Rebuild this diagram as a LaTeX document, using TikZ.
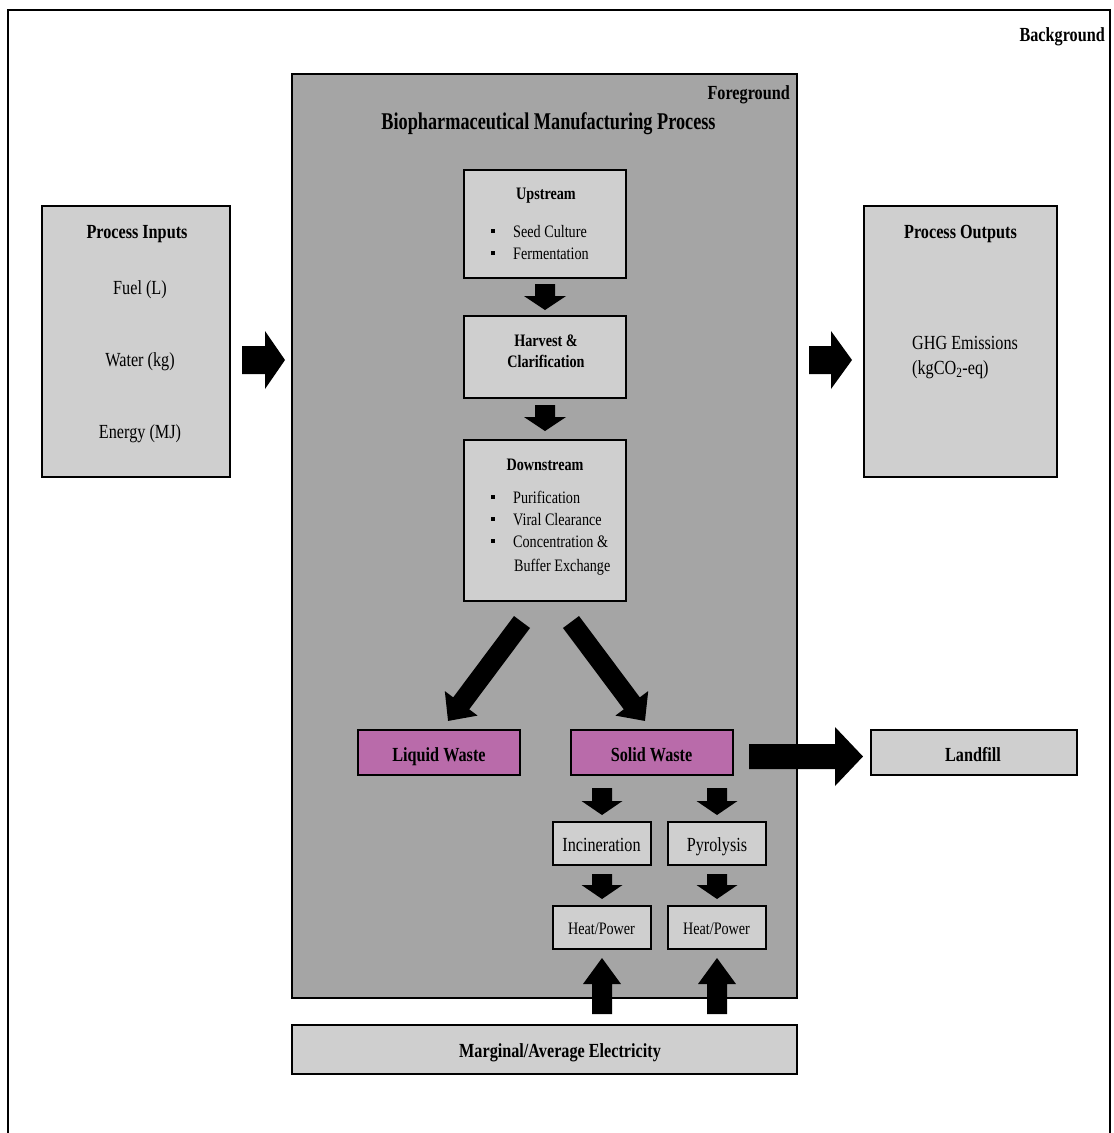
\documentclass[tikz,border=0pt]{standalone}
\usepackage{fontspec}
\setmainfont{Liberation Serif}[FakeStretch=0.81]
\newfontfamily\titlefont{Liberation Serif}[FakeStretch=0.76]
\usetikzlibrary{calc}
\definecolor{fgg}{HTML}{A5A5A5}
\definecolor{lg}{HTML}{CFCFCF}
\definecolor{purp}{HTML}{B96BAA}
\newcommand\fsmain{\fontsize{20pt}{23pt}\selectfont}
\newcommand\fssmall{\fontsize{17.5pt}{21pt}\selectfont}
\newcommand\fstitle{\fontsize{24pt}{28pt}\selectfont}
% block arrow: start, end, shaft half width, head half width, head length
\newcommand\blockarrow[5]{%
  \path let \p1=(#1), \p2=(#2) in
    \pgfextra{%
      \pgfmathsetmacro\baang{atan2(\y2-\y1,\x2-\x1)}%
      \pgfmathsetmacro\balen{veclen(\x2-\x1,\y2-\y1)}%
      \global\let\baangG\baang \global\let\balenG\balen};
  \fill[black, shift={(#1)}, rotate=\baangG]
    (0pt,-#3) -- ({\balenG pt-#5},-#3) -- ({\balenG pt-#5},-#4) -- (\balenG pt,0pt)
    -- ({\balenG pt-#5},#4) -- ({\balenG pt-#5},#3) -- (0pt,#3) -- cycle;
}
\tikzset{
  box/.style={draw=black, line width=2pt, inner sep=0pt},
  lbox/.style={box, fill=lg},
  pbox/.style={box, fill=purp},
  tm/.style={inner sep=0pt, font=\fsmain},
  tb/.style={inner sep=0pt, font=\fsmain\bfseries},
  ts/.style={inner sep=0pt, font=\fssmall},
  tsb/.style={inner sep=0pt, font=\fssmall\bfseries},
}
\begin{document}
\begin{tikzpicture}[x=1pt,y=-1pt]
\useasboundingbox (0,0) rectangle (1114,1133);
% outer frame
\draw[line width=2.5pt] (8,1134) -- (8,10) -- (1110,10) -- (1110,1134);
\node[tb, anchor=base east] (bgl) at (1105,41) {Background};
% foreground
\node[box, fill=fgg, minimum width=505pt, minimum height=924pt] (fg) at (544.5,536) {};
\node[tb, anchor=base east] (fgl) at (790,99) {Foreground};
\node[inner sep=0pt, font=\titlefont\fstitle\bfseries, anchor=base] (title) at (548.5,129) {Biopharmaceutical Manufacturing Process};
% process inputs / outputs
\node[lbox, minimum width=188pt, minimum height=271pt] (pin) at (136,341.5) {};
\node[tb, anchor=base] (pint) at (137,238.5) {Process Inputs};
\node[tm, anchor=base] (fuel) at (140,294.5) {Fuel (L)};
\node[tm, anchor=base] (water) at (140,366) {Water (kg)};
\node[tm, anchor=base] (energy) at (140,438.5) {Energy (MJ)};
\node[lbox, minimum width=193pt, minimum height=271pt] (pout) at (960.5,341.5) {};
\node[tb, anchor=base] (poutt) at (960.5,238.5) {Process Outputs};
\node[tm, anchor=base west] (ghg) at (912,349) {GHG Emissions};
\node[tm, anchor=base west] (kg) at (912,374) {(kgCO\textsubscript{2}-eq)};
% upstream
\node[lbox, minimum width=162pt, minimum height=108pt] (up) at (545,224) {};
\node[tsb, anchor=base] (upt) at (546,199.5) {Upstream};
\node[ts, anchor=base west] (seed) at (513,237.5) {Seed Culture};
\node[ts, anchor=base west] (ferm) at (513,259.5) {Fermentation};
\fill (491,229) rectangle (495,233);
\fill (491,251) rectangle (495,255);
% harvest
\node[lbox, minimum width=162pt, minimum height=82pt] (harv) at (545,357) {};
\node[tsb, anchor=base] (harv1) at (546,346.5) {Harvest \&};
\node[tsb, anchor=base] (harv2) at (546,367.5) {Clarification};
% downstream
\node[lbox, minimum width=162pt, minimum height=161pt] (down) at (545,520.5) {};
\node[tsb, anchor=base] (downt) at (545,470.5) {Downstream};
\node[ts, anchor=base west] (pur) at (513,503.5) {Purification};
\node[ts, anchor=base west] (vir) at (513,525) {Viral Clearance};
\node[ts, anchor=base west] (conc) at (513,547) {Concentration \&};
\node[ts, anchor=base west] (buf) at (514,571) {Buffer Exchange};
\fill (491,495) rectangle (495,499);
\fill (491,517) rectangle (495,521);
\fill (491,539) rectangle (495,543);
% wastes
\node[pbox, minimum width=162pt, minimum height=45pt] (liq) at (439,752.5) {};
\node[tb, anchor=base] (liqt) at (439,761) {Liquid Waste};
\node[pbox, minimum width=162pt, minimum height=45pt] (sol) at (652,752.5) {};
\node[tb, anchor=base] (solt) at (651.5,761) {Solid Waste};
\node[lbox, minimum width=206pt, minimum height=45pt] (land) at (974,752.5) {};
\node[tb, anchor=base] (landt) at (973,761) {Landfill};
% treatment
\node[lbox, minimum width=98pt, minimum height=43pt] (inc) at (602,843.5) {};
\node[tm, anchor=base] (inct) at (601.5,851.5) {Incineration};
\node[lbox, minimum width=98pt, minimum height=43pt] (pyr) at (717,843.5) {};
\node[tm, anchor=base] (pyrt) at (717,851) {Pyrolysis};
\node[lbox, minimum width=98pt, minimum height=43pt] (hp1) at (602,927.5) {};
\node[ts, anchor=base] (hp1t) at (601.5,934.5) {Heat/Power};
\node[lbox, minimum width=98pt, minimum height=43pt] (hp2) at (717,927.5) {};
\node[ts, anchor=base] (hp2t) at (716.5,934.5) {Heat/Power};
% electricity
\node[lbox, minimum width=505pt, minimum height=49pt] (elec) at (544.5,1049.5) {};
\node[tb, anchor=base] (elect) at (560,1057.5) {Marginal/Average Electricity};
% arrows
\blockarrow{$(up.south)+(0,5)$}{$(harv.north)+(0,-5)$}{10pt}{21pt}{14pt}
\blockarrow{$(harv.south)+(0,6)$}{$(down.north)+(0,-8)$}{10pt}{21pt}{14pt}
\blockarrow{$(pin.east)+(11,18.5)$}{$(fg.west |- pin.east)+(-6,18.5)$}{14pt}{29pt}{20pt}
\blockarrow{$(fg.east |- pout.west)+(11,18.5)$}{$(pout.west)+(-11,18.5)$}{14pt}{29pt}{21pt}
\blockarrow{$(down.south)+(-23,20)$}{$(liq.north)+(9,-8)$}{10pt}{20.5pt}{22pt}
\blockarrow{$(down.south)+(26,20)$}{$(sol.north)+(-7,-8)$}{10pt}{20.5pt}{22pt}
\blockarrow{$(sol.east)+(15,4)$}{$(land.west)+(-7,4)$}{12.5pt}{29.5pt}{28pt}
\blockarrow{$(inc.north)+(0,-33)$}{$(inc.north)+(0,-6)$}{10pt}{20.5pt}{14pt}
\blockarrow{$(pyr.north)+(0,-33)$}{$(pyr.north)+(0,-6)$}{10pt}{20.5pt}{14pt}
\blockarrow{$(inc.south)+(0,8)$}{$(hp1.north)+(0,-6)$}{10pt}{20.5pt}{14pt}
\blockarrow{$(pyr.south)+(0,8)$}{$(hp2.north)+(0,-6)$}{10pt}{20.5pt}{14pt}
\blockarrow{$(elec.north -| hp1.south)+(0,-10)$}{$(hp1.south)+(0,8)$}{10pt}{19pt}{26pt}
\blockarrow{$(elec.north -| hp2.south)+(0,-10)$}{$(hp2.south)+(0,8)$}{10pt}{19pt}{26pt}
\end{tikzpicture}
\end{document}
